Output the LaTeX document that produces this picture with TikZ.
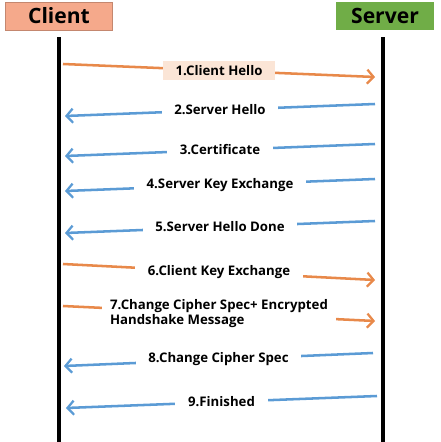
\documentclass[tikz,border=0pt]{standalone}
\usepackage{fontspec}
\setmainfont{Open Sans}
\usetikzlibrary{arrows.meta}

\definecolor{clientfill}{HTML}{F5A98B}
\definecolor{serverfill}{HTML}{70AD47}
\definecolor{toserver}{HTML}{E8894A}
\definecolor{toclient}{HTML}{5B9BD5}
\definecolor{hellofill}{HTML}{FBE5D6}

\tikzset{
	party/.style={font=\bfseries\fontsize{15}{18}\selectfont, minimum height=0.7cm, inner sep=0pt},
	lifeline/.style={line width=2.2pt},
	msg/.style={line width=1.8pt, -{Straight Barb[length=4.5pt,width=10pt,line width=1.6pt]}},
	msgtext/.style={font=\bfseries\fontsize{9.4}{10.4}\selectfont, text=black, fill=white, inner xsep=9pt, inner ysep=2pt}
}

\begin{document}
\begin{tikzpicture}[x=0.025cm,y=-0.025cm]
	\useasboundingbox (0,0) rectangle (441,442);
	% the two parties
	\node[party, fill=clientfill, draw=clientfill!80!black, minimum width=2.68cm] (client) at (59,16) {Client};
	\node[party, fill=serverfill, minimum width=2.45cm] (server) at (385,16) {Server};
	\coordinate (cbot) at (59,442);
	\coordinate (sbot) at (383,442);
	\draw[lifeline] (59,37) -- (cbot);
	\draw[lifeline] (383,37) -- (sbot);
	% message ends
	\coordinate (c1) at (63,64);  \coordinate (s1) at (375,77);
	\coordinate (c2) at (65,116); \coordinate (s2) at (375,104);
	\coordinate (c3) at (65,156); \coordinate (s3) at (375,144);
	\coordinate (c4) at (65,191); \coordinate (s4) at (375,179);
	\coordinate (c5) at (65,233); \coordinate (s5) at (375,221);
	\coordinate (c6) at (63,264); \coordinate (s6) at (375,280);
	\coordinate (c7) at (63,306); \coordinate (s7) at (375,321);
	\coordinate (c8) at (64,366); \coordinate (s8) at (373,353);
	\coordinate (c9) at (66,408); \coordinate (s9) at (377,396);
	% client to server
	\draw[msg, toserver] (c1) -- node[msgtext, fill=hellofill, inner ysep=3pt] {1.Client Hello} (s1);
	\draw[msg, toserver] (c6) -- node[msgtext] {6.Client Key Exchange} (s6);
	\draw[msg, toserver] (c7) -- node[msgtext, align=left, inner xsep=6pt] {7.Change Cipher Spec+ Encrypted\\Handshake Message} (s7);
	% server to client
	\draw[msg, toclient] (s2) -- node[msgtext] {2.Server Hello} (c2);
	\draw[msg, toclient] (s3) -- node[msgtext, inner ysep=4pt] {3.Certificate} (c3);
	\draw[msg, toclient] (s4) -- node[msgtext, inner ysep=4pt] {4.Server Key Exchange} (c4);
	\draw[msg, toclient] (s5) -- node[msgtext, inner ysep=4pt] {5.Server Hello Done} (c5);
	\draw[msg, toclient] (s8) -- node[msgtext] {8.Change Cipher Spec} (c8);
	\draw[msg, toclient] (s9) -- node[msgtext] {9.Finished} (c9);
\end{tikzpicture}
\end{document}
